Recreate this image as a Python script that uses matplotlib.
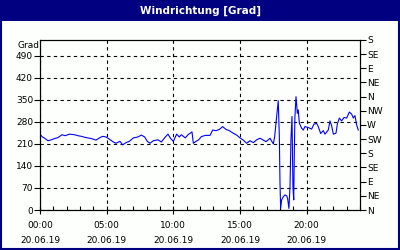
import matplotlib
matplotlib.use('Agg')
import matplotlib.pyplot as plt
from matplotlib.patches import Rectangle
import numpy as np

# Stunden seit 00:00 am 20.06.19 und Windrichtung in Grad
stunden = [0.0, 0.15, 0.35, 0.6, 0.85, 1.1, 1.35, 1.65, 1.9, 2.2, 2.6, 2.85, 3.1, 3.45,
           3.85, 4.2, 4.5, 4.7, 4.95, 5.2, 5.5, 5.7, 6.0, 6.2, 6.45, 6.7, 7.0, 7.35,
           7.6, 7.85, 8.05, 8.25, 8.5, 8.85, 9.1, 9.4, 9.6, 9.8, 10.0, 10.25, 10.45,
           10.6, 10.9, 11.1, 11.4, 11.5, 11.7, 11.9, 12.1, 12.4, 12.75, 12.95, 13.2,
           13.45, 13.7, 13.95, 14.2, 14.45, 14.75, 15.0, 15.25, 15.5, 15.75, 16.0,
           16.25, 16.5, 16.75, 16.95, 17.1, 17.25, 17.4, 17.5, 17.6, 17.7, 17.8,
           17.87, 17.95, 18.0, 18.05, 18.12, 18.25, 18.37, 18.5, 18.57, 18.67, 18.75,
           18.82, 18.9, 18.97, 19.03, 19.07, 19.12, 19.2, 19.3, 19.37, 19.45, 19.62,
           19.75, 19.87, 20.12, 20.37, 20.55, 20.75, 20.87, 21.05, 21.25, 21.37,
           21.62, 21.75, 21.87, 22.0, 22.2, 22.3, 22.45, 22.62, 22.8, 23.0, 23.2,
           23.37, 23.5, 23.62, 23.75, 23.87]
grad = [241, 233, 228, 220, 223, 227, 230, 239, 236, 241, 239, 236, 234, 230,
        227, 222, 230, 234, 232, 225, 216, 212, 218, 207, 214, 218, 229, 232,
        238, 232, 218, 212, 220, 223, 216, 232, 241, 227, 218, 241, 232,
        239, 229, 239, 248, 212, 218, 223, 233, 237, 237, 254, 252,
        256, 265, 256, 252, 245, 238, 229, 222, 212, 220, 214,
        223, 228, 222, 217, 222, 228, 217, 210, 233, 276, 318,
        347, 233, 85, 5, 32, 42, 48, 45, 37, 5, 74,
        222, 297, 74, 32, 170, 297, 360, 307, 318, 276, 260,
        254, 265, 262, 257, 273, 275, 265, 243, 252, 241,
        254, 283, 268, 241, 244, 273, 292, 283, 294, 292, 311,
        305, 292, 300, 270, 254]

links_ticks = [0, 70, 140, 210, 280, 350, 420, 490]
rechts_ticks = [0, 45, 90, 135, 180, 225, 270, 315, 360, 405, 450, 495, 540]
rechts_labels = ['N', 'NE', 'E', 'SE', 'S', 'SW', 'W', 'NW', 'N', 'NE', 'E', 'SE', 'S']
x_ticks = [0, 5, 10, 15, 20]
x_labels = ['00:00\n\n20.06.19', '05:00\n\n20.06.19', '10:00\n\n20.06.19',
            '15:00\n\n20.06.19', '20:00\n\n20.06.19']

navy = '#000080'
fig = plt.figure(figsize=(4, 2.5), dpi=100, facecolor='#fcfffc')

# Titelbalken und Rahmen
fig.patches.append(Rectangle((0, 0.918), 1, 0.082, transform=fig.transFigure,
                             facecolor=navy, edgecolor='none'))
fig.patches.append(Rectangle((0.002, 0.004), 0.995, 0.99, transform=fig.transFigure,
                             facecolor='none', edgecolor=navy, linewidth=1.5))
fig.text(0.5, 0.958, 'Windrichtung [Grad]', color='white', fontsize=7.5,
         fontweight='bold', ha='center', va='center')

ax = fig.add_axes([0.1, 0.16, 0.8, 0.68])
ax.set_facecolor('#fcfffc')
ax.plot(stunden, grad, color='#0000ff', linewidth=0.8)

ax.set_xlim(0, 24)
ax.set_ylim(0, 540)
ax.set_yticks(links_ticks)
ax.set_xticks(x_ticks)
ax.set_xticklabels(x_labels, linespacing=0.78)
ax.set_xticks(np.arange(0, 25, 1), minor=True)
ax.tick_params(axis='both', labelsize=6.5, colors='black', width=0.8)
ax.tick_params(axis='x', which='major', direction='inout', length=6, pad=5)
ax.tick_params(axis='x', which='minor', direction='in', length=3, width=0.8)
ax.tick_params(axis='y', direction='out', length=4, pad=1)
ax.grid(True, color='black', linestyle=(0, (3, 3)), linewidth=0.8)
for s in ax.spines.values():
    s.set_linewidth(0.8)

ax2 = ax.twinx()
ax2.set_ylim(0, 540)
ax2.set_yticks(rechts_ticks)
ax2.set_yticklabels(rechts_labels)
ax2.tick_params(axis='y', labelsize=6.5, direction='out', length=4, pad=1, width=0.8)

fig.text(0.07, 0.816, 'Grad', fontsize=6.5, ha='center', va='center')

fig.savefig('out.png', dpi=100, facecolor=fig.get_facecolor())
